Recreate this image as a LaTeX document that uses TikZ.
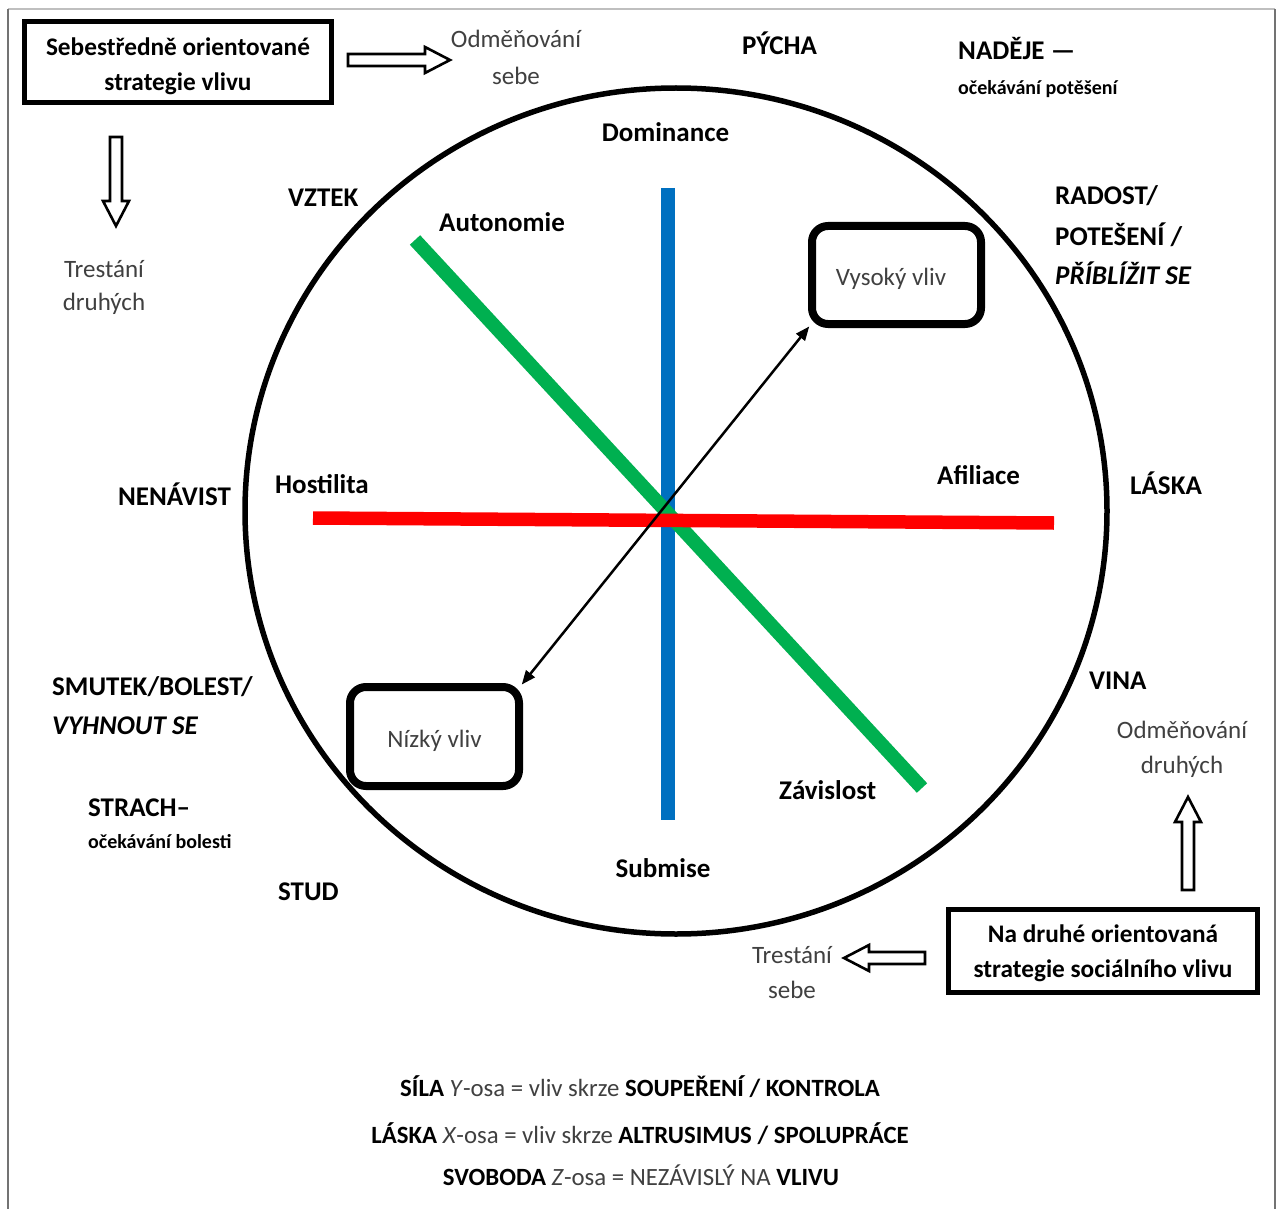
\documentclass[tikz,border=0pt]{standalone}
\usepackage{fontspec}
\setmainfont{Carlito}
\usetikzlibrary{arrows.meta,calc}
\definecolor{axblue}{HTML}{0070C0}
\definecolor{axgreen}{HTML}{00B050}
\definecolor{axred}{HTML}{FF0000}
\definecolor{txtgray}{HTML}{404040}
\newcommand\hollowarr[4]{%
  \draw[hollow] ($(#1)+({-6*(#4)},{6*(#3)})$)
    -- ($(#2)+({-25*(#3)-6*(#4)},{-25*(#4)+6*(#3)})$)
    -- ($(#2)+({-25*(#3)-13*(#4)},{-25*(#4)+13*(#3)})$)
    -- (#2)
    -- ($(#2)+({-25*(#3)+13*(#4)},{-25*(#4)-13*(#3)})$)
    -- ($(#2)+({-25*(#3)+6*(#4)},{-25*(#4)-6*(#3)})$)
    -- ($(#1)+({6*(#4)},{-6*(#3)})$) -- cycle;}
\newcommand\lowered[2]{\raisebox{-#1}[\height][\depth]{#2}}
\newcommand\boxlines[3]{\lowered{#1}{\begin{tabular}{@{}c@{}}#2\\#3\end{tabular}}}
\begin{document}
\begin{tikzpicture}[x=1pt,y=-1pt,
  lbl/.style={font=\fontsize{27}{32}\selectfont\bfseries, inner sep=0, text=black, yshift=-2pt},
  small/.style={font=\fontsize{20}{24}\selectfont\bfseries, inner sep=0, text=black, yshift=-3pt},
  reg/.style={font=\fontsize{25}{30}\selectfont, inner sep=0, text=txtgray},
  sqbox/.style={draw=black, line width=5pt, align=center, inner sep=0,
     font=\fontsize{25.3}{35}\selectfont\bfseries, text=black},
  rbox/.style={draw=black, line width=8pt, rounded corners=16pt, inner sep=0,
     font=\fontsize{25}{30}\selectfont, text=txtgray},
  hollow/.style={draw=black, fill=white, line width=2.6pt, line join=miter},
  axis/.style={line width=13.5pt},
  tipa/.tip={Triangle[length=14pt,width=11pt]},
  foot/.style={font=\fontsize{24.8}{29}\selectfont, inner sep=0, text=txtgray, anchor=base}
]
\useasboundingbox (0,0) rectangle (1277,1209);
\fill[white] (0,0) rectangle (1277,1209);
% frame
\draw[black!25, line width=2pt] (8,9) -- (1275,9);
\draw[black!55, line width=2.5pt] (8,9) -- (8,1209);
\draw[black!55, line width=2.5pt] (1275,9) -- (1275,1209);

% circle
\draw[line width=5.5pt] (676,511) ellipse [x radius=431, y radius=423];

% axes
\draw[axis, axblue] (668,188) -- (668,820);
\draw[axis, axgreen, line width=14pt] (415,240) -- (922,788);
\draw[axis, axred] (313,518) -- (1054,523);

% boxes
\node[sqbox, minimum width=307pt, minimum height=81pt] (tl) at (178,62)
  {\boxlines{4pt}{Sebestředně orientované}{strategie vlivu}};
\node[sqbox, minimum width=309pt, minimum height=83pt] (br) at (1103,951)
  {\boxlines{1.5pt}{Na druhé orientovaná}{strategie sociálního vlivu}};
\node[rbox, minimum width=169pt, minimum height=98pt] (vysoky) at (896.5,275)
  {\lowered{4pt}{Vysoký vliv}\kern11pt};
\node[rbox, minimum width=169pt, minimum height=99pt] (nizky) at (434.5,736.5)
  {\lowered{4pt}{Nízký vliv}};

\draw[line width=2.5pt, tipa-tipa, shorten <=-2pt, shorten >=-2pt] (nizky.north east) -- (vysoky.south west);

% hollow arrows
\coordinate (a1s) at (348,60);  \coordinate (a1e) at (450,60);
\coordinate (a2s) at (116,137); \coordinate (a2e) at (116,226);
\coordinate (a3s) at (1188,890);\coordinate (a3e) at (1188,797);
\coordinate (a4s) at (925,958); \coordinate (a4e) at (844,958);
\hollowarr{a1s}{a1e}{1}{0}
\hollowarr{a2s}{a2e}{0}{1}
\hollowarr{a3s}{a3e}{0}{-1}
\hollowarr{a4s}{a4e}{-1}{0}

% regular texts
\node[reg, anchor=base] (os1) at (516,48) {Odměňování};
\node[reg, anchor=base] (os2) at (516,85) {sebe};
\node[reg, anchor=base] (td1) at (104,277) {Trestání};
\node[reg, anchor=base] (td2) at (104,310) {druhých};
\node[reg, anchor=base] (od1) at (1182,738) {Odměňování};
\node[reg, anchor=base] (od2) at (1182,773) {druhých};
\node[reg, anchor=base] (ts1) at (792,963) {Trestání};
\node[reg, anchor=base] (ts2) at (792,998) {sebe};

% bold labels
\node[lbl, anchor=base] (pycha) at (779.5,53) {PÝCHA};
\node[lbl, anchor=base west] (nadeje) at (958,58) {NADĚJE —};
\node[small, anchor=base west] (nadeje2) at (958,92) {očekávání potěšení};
\node[lbl, anchor=base] (dom) at (665.5,140) {Dominance};
\node[lbl, anchor=base west] (vztek) at (288,205) {VZTEK};
\node[lbl, anchor=base west] (auto) at (439,230) {Autonomie};
\node[lbl, anchor=base west] (rad1) at (1055,203) {RADOST/};
\node[lbl, anchor=base west] (rad2) at (1055,243) {POTEŠENÍ /};
\node[lbl, anchor=base west] (rad3) at (1055,282) {\itshape PŘÍBLÍŽIT SE};
\node[lbl, anchor=base west] (host) at (275,491) {Hostilita};
\node[lbl, anchor=base west] (nen) at (118,503) {NENÁVIST};
\node[lbl, anchor=base west] (afil) at (937,482) {Afiliace};
\node[lbl, anchor=base west] (laska) at (1130,492) {LÁSKA};
\node[lbl, anchor=base west] (smu1) at (52,693) {SMUTEK/BOLEST/};
\node[lbl, anchor=base west] (smu2) at (52,732) {\itshape VYHNOUT SE};
\node[lbl, anchor=base west] (vina) at (1089,687) {VINA};
\node[lbl, anchor=base west] (zav) at (779,797) {Závislost};
\node[lbl, anchor=base west] (strach) at (88,814) {STRACH–};
\node[small, anchor=base west] (strach2) at (88,845) {očekávání bolesti};
\node[lbl, anchor=base] (sub) at (663,875) {Submise};
\node[lbl, anchor=base west] (stud) at (278,898) {STUD};

% footer
\node[foot] (f1) at (640,1096) {\textcolor{black}{\bfseries SÍLA} \textit{Y}-osa = vliv skrze \textcolor{black}{\bfseries SOUPEŘENÍ / KONTROLA}};
\node[foot] (f2) at (640,1143) {\textcolor{black}{\bfseries LÁSKA} \textit{X}-osa = vliv skrze \textcolor{black}{\bfseries ALTRUSIMUS / SPOLUPRÁCE}};
\node[foot] (f3) at (641,1185) {\textcolor{black}{\bfseries SVOBODA} \textit{Z}-osa = NEZÁVISLÝ NA \textcolor{black}{\bfseries VLIVU}};
\end{tikzpicture}
\end{document}
